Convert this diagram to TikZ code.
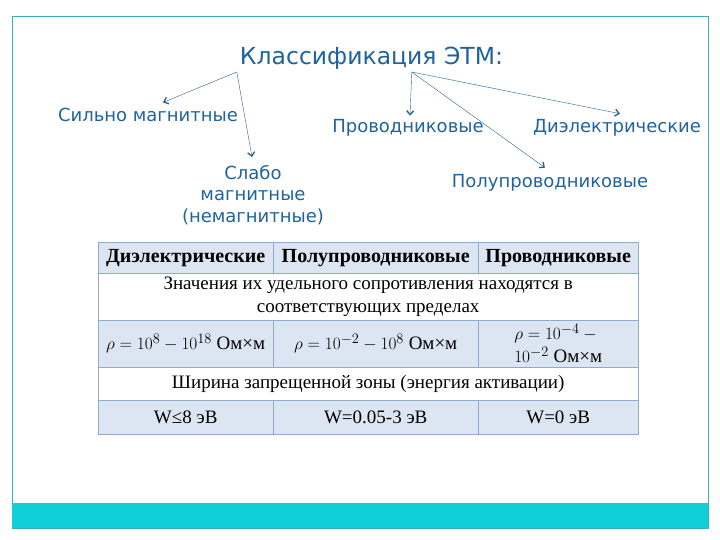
\documentclass[tikz,border=0pt]{standalone}
\usepackage{amsmath}
\usepackage{fontspec}
\setmainfont{Liberation Serif}
\newfontfamily\labelfont{DejaVu Sans}
\usetikzlibrary{positioning,arrows.meta,calc}
\definecolor{EtmBlue}{HTML}{1F639E}
\definecolor{EtmArrow}{HTML}{2B5E91}
\definecolor{EtmFrame}{HTML}{3AAFBF}
\definecolor{EtmBand}{HTML}{10CFD9}
\definecolor{EtmCell}{HTML}{DCE6F2}
\definecolor{EtmRule}{HTML}{8EAACC}

\begin{document}
\begin{tikzpicture}[
    x=1pt, y=-1pt,
    etmlabel/.style={
      font=\labelfont\fontsize{18}{21.5}\selectfont,
      text=EtmBlue,
      align=center,
      inner sep=0pt
    },
    etmarrow/.style={
      -{Straight Barb[length=4pt,width=7pt,line width=1.3pt]},
      EtmArrow,
      thin
    },
    etmcell/.style={
      draw=EtmRule,
      anchor=north west,
      inner sep=0pt,
      align=center,
      font=\fontsize{19}{23}\selectfont
    },
    etmhead/.style={
      etmcell,
      fill=EtmCell,
      minimum height=31pt,
      font=\bfseries\fontsize{20}{22}\selectfont
    }
  ]

  % рамка слайда
  \useasboundingbox (0,0) rectangle (720,540);
  \draw[EtmFrame] (12,16) rectangle (708,528);
  \fill[EtmBand] (12,503) rectangle (708,528);

  % заголовок и классы
  \node[etmlabel, font=\labelfont\fontsize{23.5}{26}\selectfont, anchor=base] (title) at (371.5,65) {Классификация ЭТМ:};
  \node[etmlabel, anchor=base] (strong) at (148,122) {Сильно магнитные};
  \node[etmlabel] (weak) at (253,195) {Слабо\\магнитные\\(немагнитные)};
  \node[etmlabel, anchor=base] (cond) at (408,133) {Проводниковые};
  \node[etmlabel, anchor=base] (diel) at (617,133) {Диэлектрические};
  \node[etmlabel, anchor=base] (semi) at (550,188) {Полупроводниковые};

  % стрелки от заголовка
  \coordinate (forkL) at ($(title.base west)+(-3,7)$);
  \coordinate (forkR) at ($(title.base west)+(172,7)$);
  \draw[etmarrow] (forkL) -- ($(strong.north)+(15,-6)$);
  \draw[etmarrow] (forkL) -- ($(weak.north)+(-1,-8)$);
  \draw[etmarrow] (forkR) -- ($(cond.north)+(2,-4)$);
  \draw[etmarrow] (forkR) -- ($(semi.north)+(-5,-7)$);
  \draw[etmarrow] (forkR) -- ($(diel.north)+(3,-6)$);

  % таблица: шапка
  \node[etmhead, minimum width=175pt] (hdiel) at (98,242) {Диэлектрические};
  \node[etmhead, minimum width=205pt] (hsemi) at (273,242) {Полупроводниковые};
  \node[etmhead, minimum width=160pt] (hcond) at (478,242) {Проводниковые};

  % удельное сопротивление
  \node[etmcell, minimum width=540pt, minimum height=47pt] (rhotext) at (98,273)
    {Значения их удельного сопротивления находятся в\\соответствующих пределах};
  \node[etmcell, fill=EtmCell, minimum width=175pt, minimum height=47pt] (rhodiel) at (98,320)
    {$\rho = 10^{8} - 10^{18}$ Ом×м};
  \node[etmcell, fill=EtmCell, minimum width=205pt, minimum height=47pt] (rhosemi) at (273,320)
    {$\rho = 10^{-2} - 10^{8}$ Ом×м};
  \node[etmcell, fill=EtmCell, minimum width=160pt, minimum height=47pt, align=left] (rhocond) at (478,320)
    {$\rho = 10^{-4} -{}$\\$10^{-2}$ Ом×м};

  % ширина запрещенной зоны
  \node[etmcell, minimum width=540pt, minimum height=33pt] (wtext) at (98,367)
    {Ширина запрещенной зоны (энергия активации)};
  \node[etmcell, fill=EtmCell, minimum width=175pt, minimum height=34pt] (wdiel) at (98,400) {W≤8 эВ};
  \node[etmcell, fill=EtmCell, minimum width=205pt, minimum height=34pt] (wsemi) at (273,400) {W=0.05-3 эВ};
  \node[etmcell, fill=EtmCell, minimum width=160pt, minimum height=34pt] (wcond) at (478,400) {W=0 эВ};

\end{tikzpicture}
\end{document}
